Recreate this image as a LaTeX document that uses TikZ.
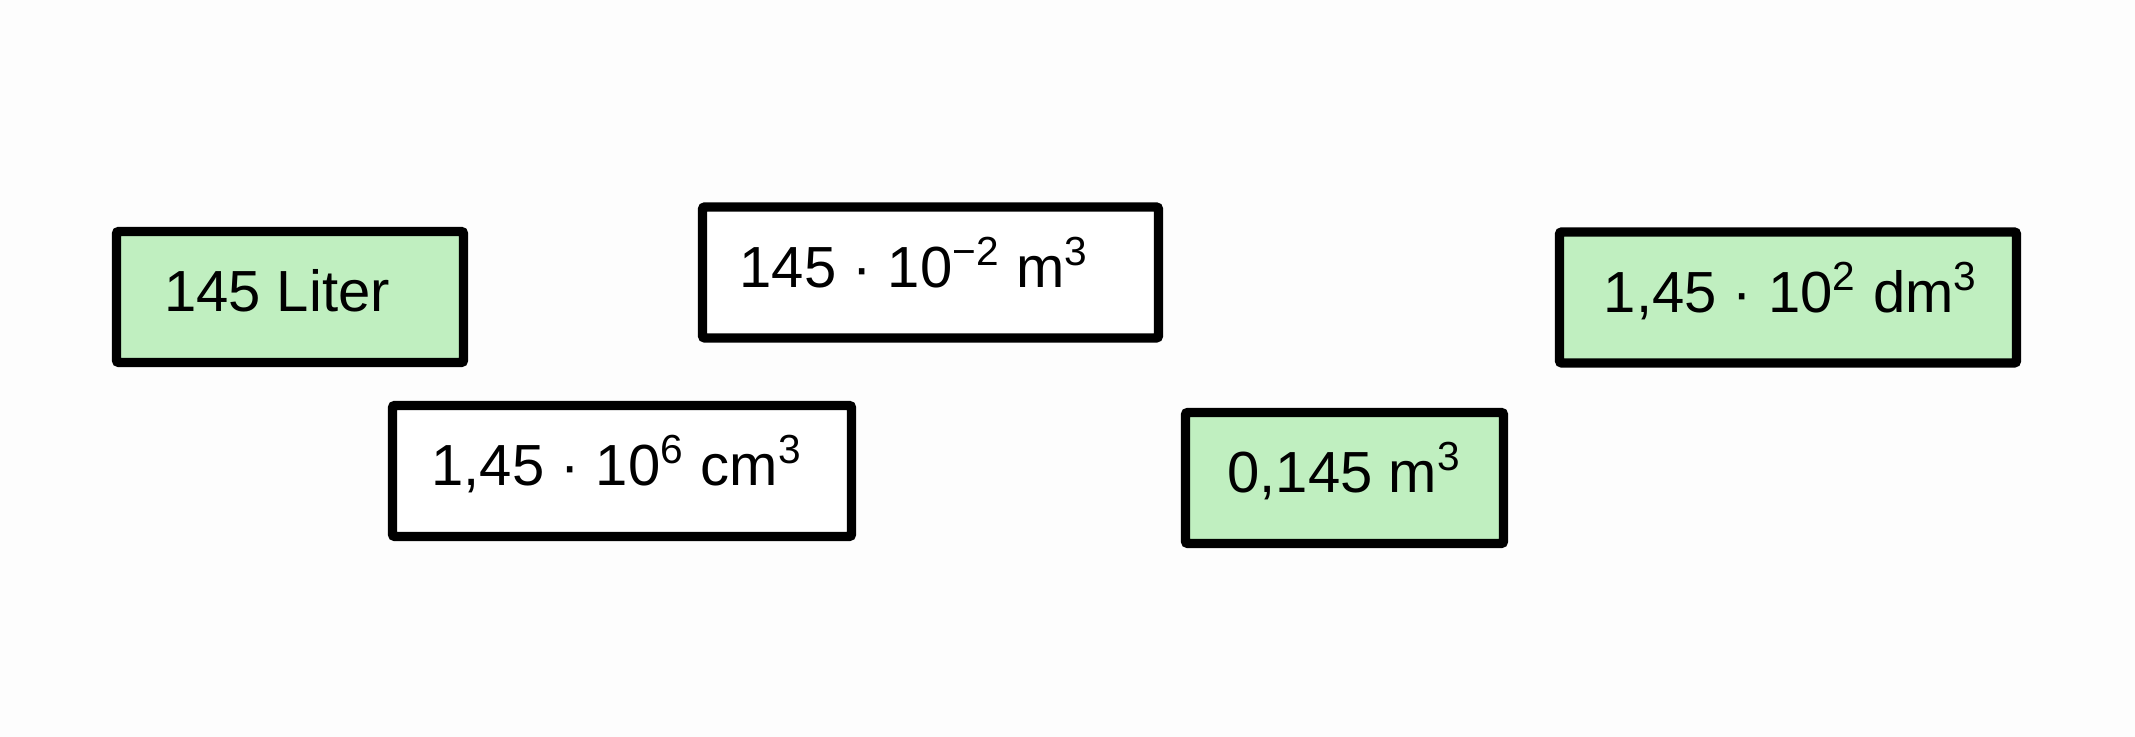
\documentclass[tikz,border=0pt]{standalone}
\usepackage{fontspec}
\setmainfont{Liberation Sans}
\definecolor{boxgreen}{RGB}{192,239,192}

\begin{document}
\begin{tikzpicture}[
        unitbox/.style={draw=black, line width=2.6pt, rounded corners=0.6pt,
            minimum height=1.31cm, inner sep=0pt, text height=0.41cm, text depth=0.11cm,
            font=\fontsize{16.5}{19}\selectfont},
        rightbox/.style={unitbox, fill=boxgreen},
        wrongbox/.style={unitbox, fill=white}
    ]
            \fill[white!99.3!black] (0,0) rectangle (21.35,7.37);
            \useasboundingbox (0,0) rectangle (21.35,7.37);
            \node[rightbox, minimum width=3.47cm] (liter) at (2.90,4.40) {145 Liter\kern0.26cm};
            \node[wrongbox, minimum width=4.56cm] (mpow) at (9.305,4.645) {145 · 10\textsuperscript{−2} m\textsuperscript{3}\kern0.32cm};
            \node[wrongbox, minimum width=4.59cm] (cm) at (6.22,2.66) {1,45 · 10\textsuperscript{6} cm\textsuperscript{3}\kern0.1cm};
            \node[rightbox, minimum width=3.18cm] (m) at (13.445,2.59) {0,145 m\textsuperscript{3}};
            \node[rightbox, minimum width=4.57cm] (dm) at (17.88,4.395) {1,45 · 10\textsuperscript{2} dm\textsuperscript{3}\kern-0.06cm};
        \end{tikzpicture}
\end{document}
